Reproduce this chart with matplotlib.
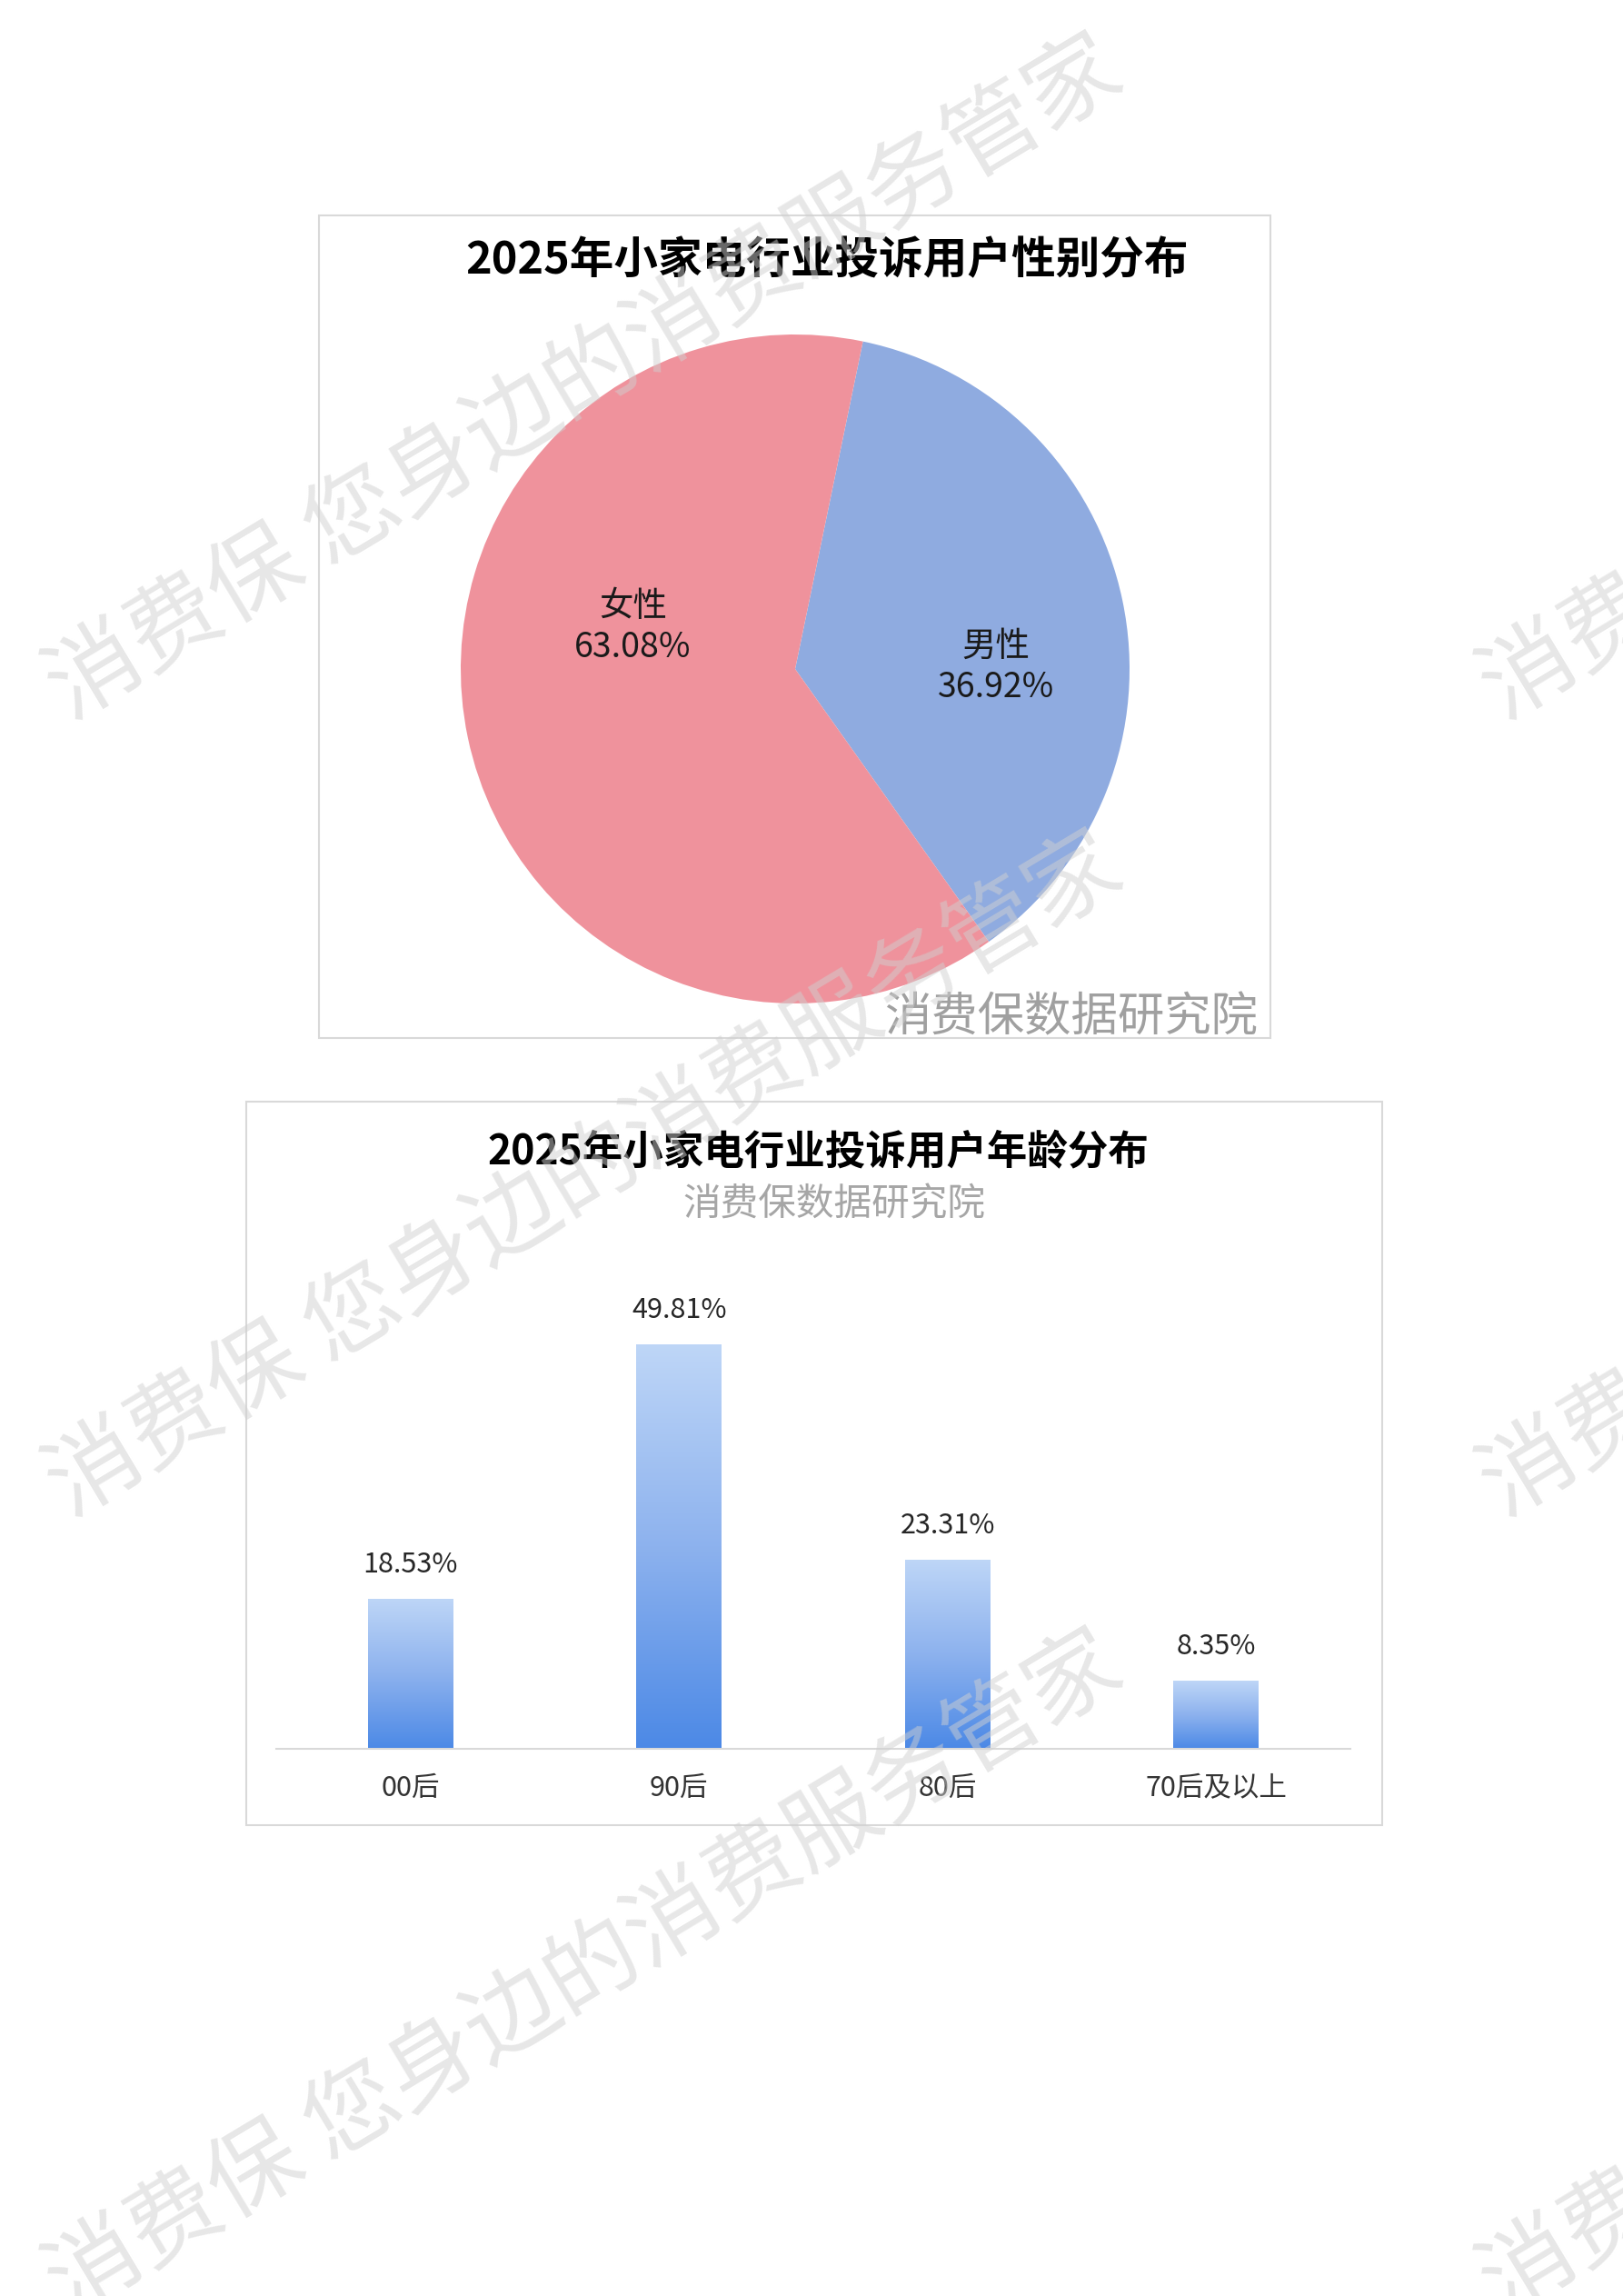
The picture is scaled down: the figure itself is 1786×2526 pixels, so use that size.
import matplotlib
matplotlib.use('Agg')
import matplotlib.pyplot as plt
import numpy as np
from matplotlib.patches import Rectangle
from matplotlib.colors import LinearSegmentedColormap

plt.rcParams['font.family'] = ['Noto Sans CJK SC', 'DejaVu Sans']

# data
gender_labels = ['男性', '女性']
gender_values = [36.92, 63.08]
gender_colors = ['#8FABE0', '#EF929C']

age_labels = ['00后', '90后', '80后', '70后及以上']
age_values = [18.53, 49.81, 23.31, 8.35]

pie_title = '2025年小家电行业投诉用户性别分布'
bar_title = '2025年小家电行业投诉用户年龄分布'
source = '消费保数据研究院'
watermark = '消费保 您身边的消费服务管家'

W, H = 1786, 2526
fig = plt.figure(figsize=(W / 100, H / 100), dpi=100)
fig.patch.set_facecolor('white')


def fx(x):
    return x / W


def fy(y):
    return 1 - y / H


def box(x0, y0, x1, y1):
    fig.patches.append(Rectangle((fx(x0), fy(y1)), fx(x1 - x0), (y1 - y0) / H,
                                 transform=fig.transFigure, fill=False,
                                 edgecolor='#D9D9D9', linewidth=1.5, zorder=1))


# ---- pie chart ----
box(351, 237, 1398, 1142)
cx, cy, r = 875, 736, 368
ax1 = fig.add_axes([fx(cx - r), fy(cy + r), fx(2 * r), 2 * r / H])
wedges, _ = ax1.pie(gender_values, colors=gender_colors, startangle=78.3,
                    counterclock=False, radius=1.0,
                    wedgeprops=dict(linewidth=0))
ax1.set_xlim(-1, 1)
ax1.set_ylim(-1, 1)
ax1.set_aspect('equal')
ax1.axis('off')
# label spots (Excel does not put them on the wedge middle)
label_pos = [(0.60, 0.005), (-0.485, 0.125)]
for lab, v, (lx, ly) in zip(gender_labels, gender_values, label_pos):
    ax1.text(lx, ly, '{}\n{:.2f}%'.format(lab, v), ha='center', va='center',
             fontsize=27, color='#1a1a1a', linespacing=1.2)

fig.text(fx(910), fy(287), pie_title, ha='center', va='center',
         fontsize=35, fontweight='bold', color='black')
fig.text(fx(1179), fy(1120), source, ha='center', va='center',
         fontsize=37, fontweight='light', color='#A0A0A0')

# ---- bar chart ----
box(271, 1212, 1521, 2008)
ax2 = fig.add_axes([fx(304), fy(1924), fx(1486 - 304), (1924 - 1433) / H])
x = np.arange(len(age_values))
bars = ax2.bar(x, age_values, width=0.317, color='none', edgecolor='none')
cmap = LinearSegmentedColormap.from_list('blu', ['#4C89E6', '#8DB2EE', '#BED6F7'])
grad = np.linspace(1, 0, 256).reshape(-1, 1)
for b in bars:
    im = ax2.imshow(grad, cmap=cmap, aspect='auto', zorder=2,
                    extent=[b.get_x(), b.get_x() + b.get_width(), 0, b.get_height()])
    im.set_clip_path(b)
    ax2.annotate('{:.2f}%'.format(b.get_height()),
                 xy=(b.get_x() + b.get_width() / 2, b.get_height()),
                 xytext=(0, 27), textcoords='offset points',
                 ha='center', va='center', fontsize=22, color='#262626')
ax2.set_xlim(-0.5, 3.5)
ax2.set_ylim(0, 55)
ax2.set_xticks(x)
ax2.set_xticklabels(age_labels, fontsize=22, color='#333333')
ax2.tick_params(axis='x', length=0, pad=20)
ax2.set_yticks([])
for s in ['top', 'left', 'right']:
    ax2.spines[s].set_visible(False)
ax2.spines['bottom'].set_color('#D9D9D9')
ax2.spines['bottom'].set_linewidth(1.5)
ax2.patch.set_alpha(0)

fig.text(fx(900), fy(1268), bar_title, ha='center', va='center',
         fontsize=32, fontweight='bold', color='black')
fig.text(fx(918), fy(1326), source, ha='center', va='center',
         fontsize=30, fontweight='light', color='#A6A6A6')

# ---- watermark ----
for wy in [419, 1296, 2174]:
    for wx in [644, 2222]:
        fig.text(fx(wx), fy(wy), watermark, ha='center', va='center',
                 rotation=31, rotation_mode='anchor', fontsize=74,
                 color='#D0D0D0', alpha=0.5, zorder=10)

fig.savefig('out.png', dpi=100, facecolor='white')
